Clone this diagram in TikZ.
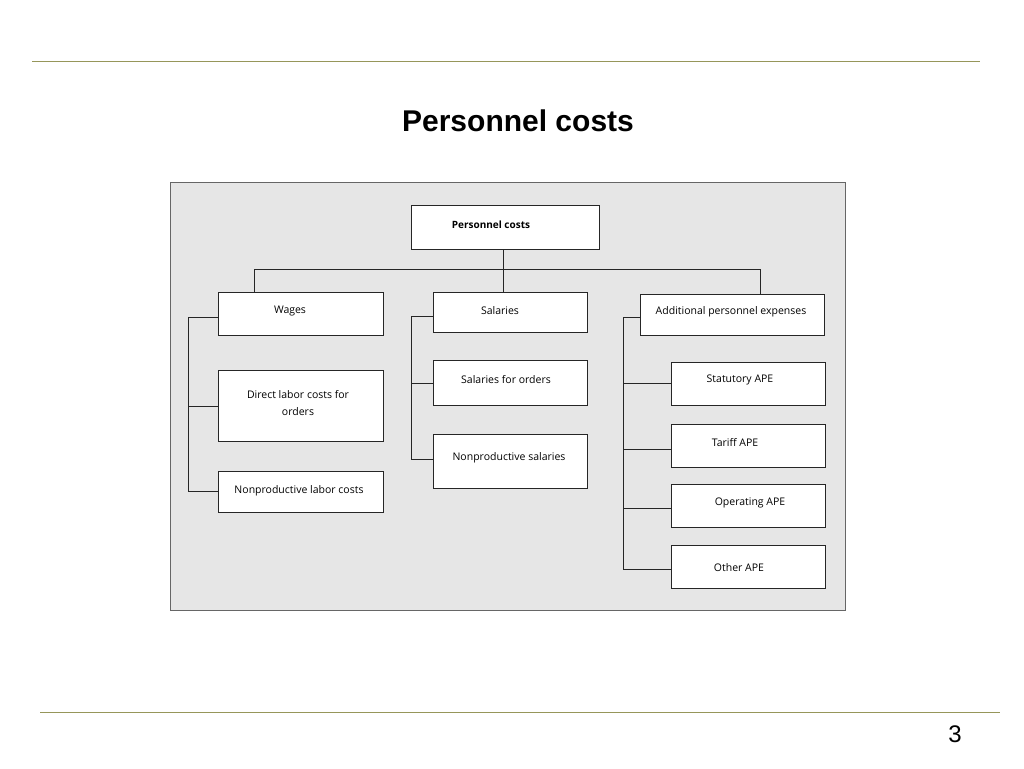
\documentclass[tikz,border=0pt]{standalone}
\usepackage{fontspec}
\setmainfont{Open Sans}
\newfontfamily\titlefont{Liberation Sans}
\begin{document}
\begin{tikzpicture}[x=1pt,y=-1pt,
  box/.style={draw=black!85,fill=white,line width=0.9pt},
  lbl/.style={font=\fontsize{10.5}{13}\selectfont,align=center,inner sep=0},
  conn/.style={draw=black!85,line width=0.9pt}]
\useasboundingbox (0,0) rectangle (1024,768);
\draw[color={rgb,255:red,150;green,150;blue,90},line width=1pt] (32,61) -- (980,61);
\draw[color={rgb,255:red,150;green,150;blue,90},line width=1pt] (40,712) -- (1000,712);
\node[font=\titlefont\bfseries\fontsize{30}{34}\selectfont] (title) at (518,121) {Personnel costs};
\node[font=\titlefont\fontsize{24}{28}\selectfont] (pg) at (955,734) {3};
\draw[fill={rgb,255:red,230;green,230;blue,230},draw=black!60,line width=1pt] (170,182) rectangle (845,610);
% connectors
\draw[conn] (503,249) -- (503,269);
\draw[conn] (254,292) -- (254,269) -- (760,269) -- (760,294);
\draw[conn] (503,269) -- (503,292);
\draw[conn] (218,317) -- (188,317) -- (188,491) -- (218,491);
\draw[conn] (188,406) -- (218,406);
\draw[conn] (433,316) -- (411,316) -- (411,459) -- (433,459);
\draw[conn] (411,383) -- (433,383);
\draw[conn] (640,317) -- (623,317) -- (623,569) -- (671,569);
\draw[conn] (623,383) -- (671,383);
\draw[conn] (623,449) -- (671,449);
\draw[conn] (623,508) -- (671,508);
% boxes
\draw[box] (411,205) rectangle (599,249);
\draw[box] (218,292) rectangle (383,335);
\draw[box] (433,292) rectangle (587,332);
\draw[box] (640,294) rectangle (824,335);
\draw[box] (218,370) rectangle (383,441);
\draw[box] (218,471) rectangle (383,512);
\draw[box] (433,360) rectangle (587,405);
\draw[box] (433,434) rectangle (587,488);
\draw[box] (671,362) rectangle (825,405);
\draw[box] (671,424) rectangle (825,467);
\draw[box] (671,484) rectangle (825,527);
\draw[box] (671,545) rectangle (825,588);
% labels
\node[lbl,font=\bfseries\fontsize{10}{13}\selectfont] (t0) at (491,225) {Personnel costs};
\node[lbl] (t1) at (290,311) {Wages};
\node[lbl] (t2) at (500,311) {Salaries};
\node[lbl] (t3) at (731,312) {Additional personnel expenses};
\node[lbl] (t4) at (298,403) {Direct labor costs for\\[4pt]orders};
\node[lbl] (t5) at (299,491) {Nonproductive labor costs};
\node[lbl] (t6) at (506,380) {Salaries for orders};
\node[lbl] (t7) at (509,458) {Nonproductive salaries};
\node[lbl] (t8) at (740,380) {Statutory APE};
\node[lbl] (t9) at (735,443) {Tariff APE};
\node[lbl] (t10) at (750,503) {Operating APE};
\node[lbl] (t11) at (739,568) {Other APE};
\end{tikzpicture}
\end{document}
